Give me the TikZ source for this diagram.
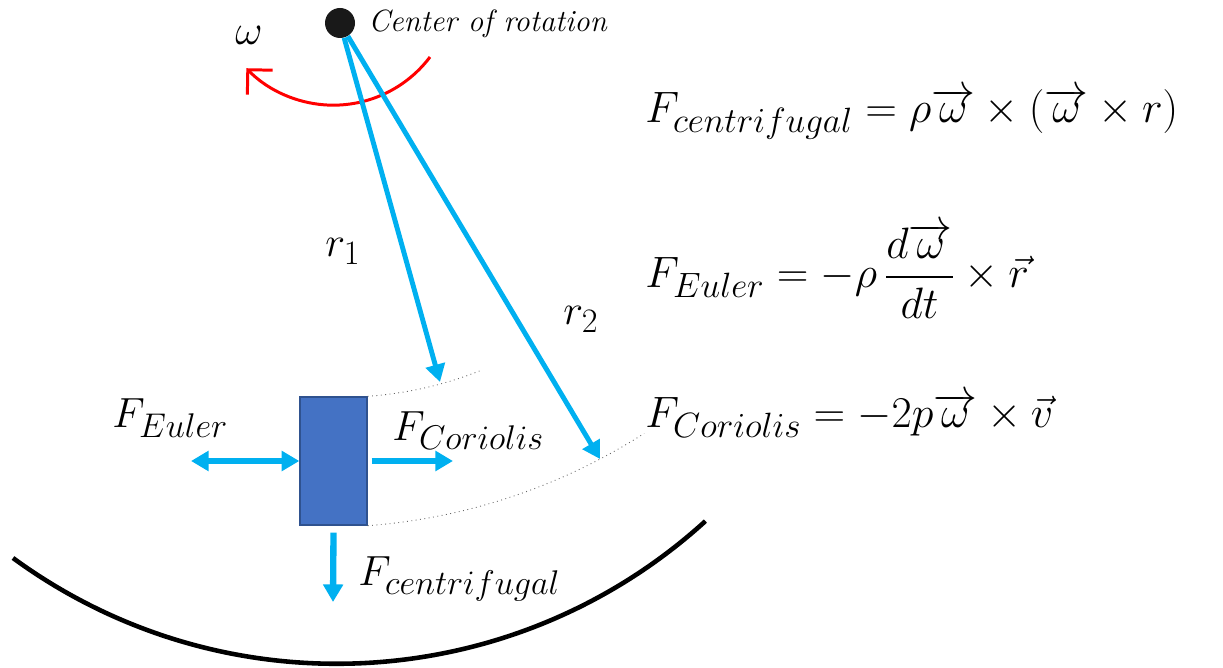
\RequirePackage{fix-cm}
\documentclass[tikz,border=0pt]{standalone}
\usepackage{amsmath}
\usepackage{xcolor}
\usepackage{tikz}
\usetikzlibrary{arrows.meta, positioning, calc}
\definecolor{flowblue}{HTML}{00B0F0}
\definecolor{massfill}{HTML}{4472C4}
\definecolor{massedge}{HTML}{2F528F}
\definecolor{spinred}{HTML}{FF0000}
\DeclareMathSizes{24}{24}{19.5}{15}
\DeclareMathSizes{25}{25}{20}{16}

\begin{document}
\begin{tikzpicture}[
    x=0.02cm, y=0.02cm,
    bigtext/.style={font=\fontsize{24}{28}\selectfont, anchor=base west,
                    inner sep=0pt},
    eqtext/.style={font=\fontsize{25}{30}\selectfont, anchor=base west,
                   inner sep=0pt},
    smalltext/.style={font=\fontsize{17.5}{21}\selectfont\itshape,
                      anchor=base west, inner sep=0pt},
    pivotdot/.style={circle, fill=black!90, inner sep=0pt,
                     minimum size=0.6cm},
    massbox/.style={draw=massedge, fill=massfill, line width=0.8pt,
                    minimum width=1.34cm, minimum height=2.56cm},
    radiusarrow/.style={-{Triangle[length=10pt,width=11pt]},
                        line width=2.8pt, color=flowblue},
    forcearrow/.style={-{Triangle[length=10pt,width=11pt]},
                       line width=3.6pt, color=flowblue},
    eulerarrow/.style={{Triangle[length=10pt,width=11pt]}-{Triangle[length=10pt,width=11pt]},
                       line width=3.6pt, color=flowblue},
    spinarrow/.style={-{Straight Barb[length=10pt,width=20pt]},
                      line width=1.7pt, color=spinred},
    orbitline/.style={dotted, line width=0.5pt, color=black!60},
    rimline/.style={line width=2.6pt, color=black},
  ]
  \useasboundingbox (0,0) rectangle (1223,-668);

  % -----------------------------------------------------------
  % Center of rotation and spin
  % -----------------------------------------------------------
  \node[pivotdot] (cor) at (340,-23) {};
  \node[smalltext] (cortext) at (368,-32) {Center of rotation};
  \node[bigtext] (omega) at (235,-45) {$\omega$};

  \draw[spinarrow] (430,-57) arc[start angle=-37, end angle=-136, radius=121];

  % -----------------------------------------------------------
  % Mass and the two radii
  % -----------------------------------------------------------
  \node[massbox] (mass) at (333.5,-461) {};

  \coordinate (r1tip) at (440,-382);
  \coordinate (r2tip) at (600,-459);

  \draw[orbitline] (mass.north east)
        arc[start angle=-86, end angle=-68, radius=376];
  \draw[orbitline] (mass.south east)
        arc[start angle=-85.7, end angle=-57.4, radius=596];

  \draw[radiusarrow] (cor) -- (r1tip);
  \draw[radiusarrow] (cor) -- (r2tip);

  \node[bigtext] (r1) at (325,-257) {$r_1$};
  \node[bigtext] (r2) at (563,-325) {$r_2$};

  % -----------------------------------------------------------
  % Forces on the mass
  % -----------------------------------------------------------
  \coordinate (eulerend) at (191,-461);
  \coordinate (corioend) at (453,-461);
  \coordinate (centrend) at (333,-602);

  \draw[eulerarrow] (eulerend) -- (mass.west);
  \draw[forcearrow] ($(mass.east)+(4,0)$) -- (corioend);
  \draw[forcearrow] ($(mass.south)+(0,-7)$) -- (centrend);

  \node[bigtext] (feuler) at (112,-428) {$F_{Euler}$};
  \node[bigtext] (fcorio) at (392,-440) {$F_{Coriolis}$};
  \node[bigtext] (fcentr) at (358,-585) {$F_{centrifugal}$};

  % outer rim
  \coordinate (rimstart) at (13,-558);
  \draw[rimline] (rimstart) arc[start angle=233.8, end angle=312.3, radius=548];

  % -----------------------------------------------------------
  % Formulas (right)
  % -----------------------------------------------------------
  \node[eqtext] (eqcentr) at (645,-123)
        {$F_{centrifugal} = \rho\overrightarrow{\omega}\times(\overrightarrow{\omega}\times r)$};
  \node[eqtext] (eqeuler) at (645,-288)
        {$F_{Euler} = -\rho\,\dfrac{d\overrightarrow{\omega}}{dt}\times\vec{r}$};
  \node[eqtext] (eqcorio) at (645,-428)
        {$F_{Coriolis} = -2p\overrightarrow{\omega}\times\vec{v}$};

\end{tikzpicture}
\end{document}
